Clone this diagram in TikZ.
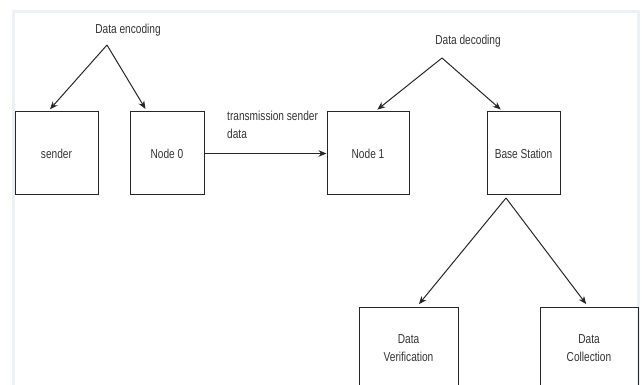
\documentclass[tikz,border=0pt]{standalone}
\usepackage{fontspec}
\setmainfont{Liberation Sans}[FakeStretch=0.78]
\usepackage{tikz}
\usetikzlibrary{positioning,arrows.meta}

\definecolor{framegray}{RGB}{236,240,247}
\definecolor{inkgray}{RGB}{51,51,51}

\tikzset{
  block/.style={draw=black!85, line width=1pt, minimum width=#1, minimum height=83pt,
    inner sep=0pt, align=center, text=inkgray},
  block/.default=83pt,
  arr/.style={draw=black!85, line width=1pt, -{Stealth[length=8pt,width=6.5pt]}, shorten >=3pt},
  caption/.style={text=inkgray, inner sep=0pt}
}

\begin{document}
\begin{tikzpicture}[x=1pt,y=-1pt,font=\fontsize{13}{18}\selectfont]
  % sensor data path: encoding, transmission, decoding
  \useasboundingbox (0,0) rectangle (643,385);
  \draw[framegray, line width=3pt] (13.5,400) -- (13.5,12) -- (638.5,12) -- (638.5,400);

  \node[block=83pt] (sender) at (56.5,153.5) {sender};
  \node[block=74pt] (node0) at (167,153.5) {Node 0};
  \node[block=82pt] (node1) at (368,153.5) {Node 1};
  \node[block=73pt] (base) at (523.5,153.5) {Base Station};
  \node[block=99pt] (verif) at (408.5,348.5) {Data\\Verification};
  \node[block=98pt] (collect) at (589,348.5) {Data\\Collection};

  \node[caption] (enc) at (128,30) {Data encoding};
  \node[caption] (dec) at (468,41) {Data decoding};
  \node[caption, align=left, anchor=north west] (tx) at (227,111)
    {transmission sender\\data};

  \coordinate (encsplit) at (107,45);
  \coordinate (decsplit) at (442,58);
  \coordinate (basesplit) at (506,198);

  \draw[arr] (encsplit) -- ([xshift=-8.5pt]sender.north);
  \draw[arr] (encsplit) -- ([xshift=-20pt]node0.north);
  \draw[arr, shorten >=0pt] (node0.east) -- (node1.west);
  \draw[arr] (decsplit) -- ([xshift=7pt]node1.north);
  \draw[arr] (decsplit) -- ([xshift=-20.5pt]base.north);
  \draw[arr] (basesplit) -- ([xshift=8.5pt]verif.north);
  \draw[arr] (basesplit) -- ([xshift=-1pt]collect.north);
\end{tikzpicture}
\end{document}
